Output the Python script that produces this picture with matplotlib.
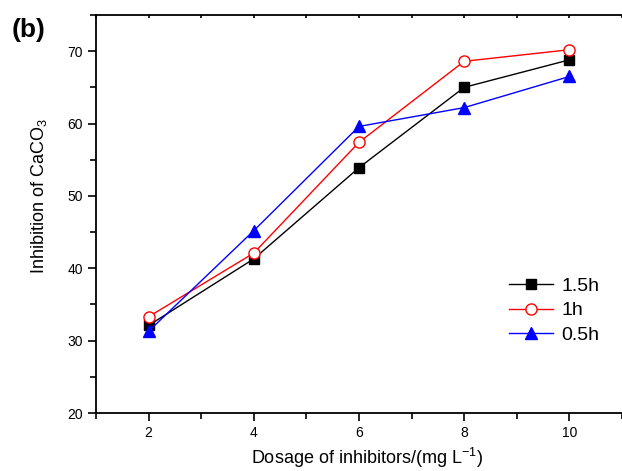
import numpy as np
import matplotlib.pyplot as plt
from matplotlib.lines import TICKDOWN
from matplotlib.ticker import MultipleLocator

plt.rcParams['font.family'] = ['Liberation Sans', 'DejaVu Sans']
plt.rcParams['mathtext.fontset'] = 'custom'
plt.rcParams['mathtext.rm'] = 'Liberation Sans'
plt.rcParams['mathtext.it'] = 'Liberation Sans'
plt.rcParams['mathtext.default'] = 'regular'

# dosage (mg/L) and inhibition (%) at three reaction times
dosage = [2, 4, 6, 8, 10]
inh_15h = [32.1, 41.3, 53.9, 65.0, 68.8]
inh_1h = [33.3, 42.1, 57.4, 68.6, 70.2]
inh_05h = [31.3, 45.2, 59.6, 62.2, 66.5]

fig = plt.figure(figsize=(6.22, 4.71), dpi=100)
ax = fig.add_axes([0.1543, 0.1231, 0.8457, 0.8451])

ax.plot(dosage, inh_15h, color='black', lw=1, marker='s', ms=7,
        mfc='black', mec='black', label='1.5h')
ax.plot(dosage, inh_1h, color='red', lw=1, marker='o', ms=8,
        mfc='white', mec='red', label='1h')
ax.plot(dosage, inh_05h, color='blue', lw=1, marker='^', ms=9,
        mfc='blue', mec='blue', label='0.5h')

ax.set_xlim(1, 11)
ax.set_ylim(20, 75)
ax.xaxis.set_major_locator(MultipleLocator(2))
ax.xaxis.set_minor_locator(MultipleLocator(1))
ax.yaxis.set_major_locator(MultipleLocator(10))
ax.yaxis.set_minor_locator(MultipleLocator(5))
ax.set_yticks([20, 30, 40, 50, 60, 70])
ax.tick_params(which='major', direction='out', length=6, width=1.2, labelsize=10)
ax.tick_params(which='minor', direction='out', length=4, width=1.2)
# tiny inward ticks along the top edge
ax.tick_params(which='both', top=True, labeltop=False)
for t in ax.xaxis.get_major_ticks() + ax.xaxis.get_minor_ticks():
    t.tick2line.set_marker(TICKDOWN)
    t.tick2line.set_markersize(2)
for s in ax.spines.values():
    s.set_linewidth(1.3)
ax.spines['right'].set_visible(False)

ax.set_xlabel('Dosage of inhibitors/(mg L$^{-1}$)', fontsize=13)
ax.set_ylabel('Inhibition of CaCO$_3$', fontsize=13)
ax.xaxis.set_label_coords(0.516, -0.082)
ax.yaxis.set_label_coords(-0.09, 0.545)

fig.text(0.018, 0.937, '(b)', fontsize=19, fontweight='bold', va='center')

ax.legend(loc='lower right', bbox_to_anchor=(0.99, 0.13), frameon=False,
          fontsize=14, handlelength=2.3, handletextpad=0.4, labelspacing=0.35)

fig.savefig('out.png', dpi=100)
